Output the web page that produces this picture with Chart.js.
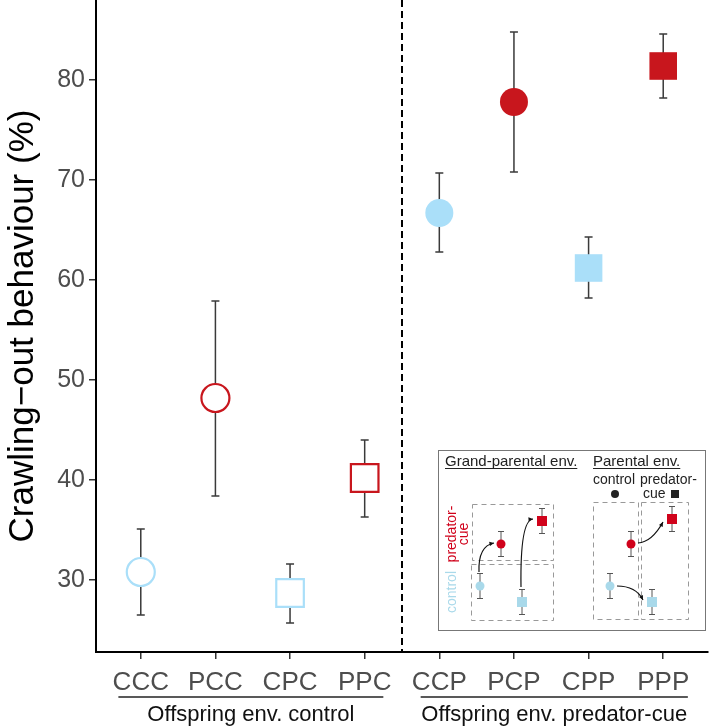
<!DOCTYPE html>
<html>
<head>
<meta charset="utf-8">
<script src="https://cdn.jsdelivr.net/npm/chart.js@4.4.1/dist/chart.umd.min.js"></script>
<style>
  body { margin: 0; background: #fff; }
  #wrap { width: 709px; height: 727px; position: relative; }
</style>
</head>
<body>
<div id="wrap"><canvas id="chart"></canvas></div>
<script>
// data
const categories = ['CCC', 'PCC', 'CPC', 'PPC', 'CCP', 'PCP', 'CPP', 'PPP'];
const means = [30.8, 48.2, 28.7, 40.2, 66.7, 77.8, 61.2, 81.4];
const lowerCI = [26.5, 38.4, 25.7, 36.3, 62.8, 70.8, 58.2, 78.2];
const upperCI = [35.1, 57.9, 31.6, 44.0, 70.7, 84.8, 64.3, 84.6];
const yTicks = [30, 40, 50, 60, 70, 80];
const groupLabels = ['Offspring env. control', 'Offspring env. predator-cue'];
const groupStart = [-0.3, 3.75];
const groupEnd = [3.25, 7.33];

const BLUE = '#aadff9';
const RED = '#c8161d';
const FONT = '"Liberation Sans", Arial, sans-serif';

// letter 1 = grand-parental (colour), 2 = parental (shape), 3 = offspring (fill)
const pointColor = categories.map(c => c[0] === 'C' ? BLUE : RED);
const pointShape = categories.map(c => c[1] === 'C' ? 'circle' : 'rect');
const pointFilled = categories.map(c => c[2] === 'P');
const pointSize = categories.map((c, i) => pointShape[i] === 'circle' ? 14 : 19.5);

const errorBars = {
  id: 'errorBars',
  beforeDatasetsDraw(chart) {
    const { ctx, scales: { x, y } } = chart;
    ctx.save();
    ctx.strokeStyle = '#3a3a3a';
    ctx.lineWidth = 1.5;
    categories.forEach((c, i) => {
      const px = x.getPixelForValue(i);
      const top = y.getPixelForValue(upperCI[i]);
      const bot = y.getPixelForValue(lowerCI[i]);
      ctx.beginPath();
      ctx.moveTo(px, top); ctx.lineTo(px, bot);
      ctx.moveTo(px - 4, top); ctx.lineTo(px + 4, top);
      ctx.moveTo(px - 4, bot); ctx.lineTo(px + 4, bot);
      ctx.stroke();
    });
    ctx.restore();
  }
};

const extras = {
  id: 'extras',
  afterDraw(chart) {
    const { ctx, chartArea: area, scales: { x } } = chart;
    ctx.save();
    // dashed separator
    const sx = x.getPixelForValue(3.5);
    ctx.strokeStyle = '#000';
    ctx.lineWidth = 2;
    ctx.setLineDash([7, 4]);
    ctx.beginPath();
    ctx.moveTo(sx, area.top);
    ctx.lineTo(sx, area.bottom);
    ctx.stroke();
    ctx.setLineDash([]);

    // group underlines + labels
    ctx.lineWidth = 1.5;
    ctx.strokeStyle = '#222';
    ctx.fillStyle = '#111';
    ctx.font = '22px ' + FONT;
    ctx.textAlign = 'center';
    ctx.textBaseline = 'middle';
    groupLabels.forEach((g, i) => {
      const a = x.getPixelForValue(groupStart[i]);
      const b = x.getPixelForValue(groupEnd[i]);
      ctx.beginPath();
      ctx.moveTo(a, area.bottom + 45);
      ctx.lineTo(b, area.bottom + 45);
      ctx.stroke();
      ctx.fillText(g, (a + b) / 2, area.bottom + 63);
    });
    ctx.restore();
    drawInset(ctx, area);
  }
};

function miniPoint(ctx, px, py, shape, color) {
  ctx.strokeStyle = '#555';
  ctx.lineWidth = 1;
  ctx.beginPath();
  ctx.moveTo(px, py - 12.5); ctx.lineTo(px, py + 12.5);
  ctx.moveTo(px - 3, py - 12.5); ctx.lineTo(px + 3, py - 12.5);
  ctx.moveTo(px - 3, py + 12.5); ctx.lineTo(px + 3, py + 12.5);
  ctx.stroke();
  ctx.fillStyle = color;
  if (shape === 'circle') {
    ctx.beginPath();
    ctx.arc(px, py, 4.5, 0, Math.PI * 2);
    ctx.fill();
  } else {
    ctx.fillRect(px - 5, py - 5, 10, 10);
  }
}

function curvedArrow(ctx, x0, y0, cx, cy, x1, y1) {
  ctx.strokeStyle = '#111';
  ctx.fillStyle = '#111';
  ctx.lineWidth = 1.2;
  ctx.beginPath();
  ctx.moveTo(x0, y0);
  ctx.quadraticCurveTo(cx, cy, x1, y1);
  ctx.stroke();
  const ang = Math.atan2(y1 - cy, x1 - cx);
  ctx.beginPath();
  ctx.moveTo(x1, y1);
  ctx.lineTo(x1 - 5 * Math.cos(ang - 0.45), y1 - 5 * Math.sin(ang - 0.45));
  ctx.lineTo(x1 - 5 * Math.cos(ang + 0.45), y1 - 5 * Math.sin(ang + 0.45));
  ctx.closePath();
  ctx.fill();
}

function drawInset(ctx, area) {
  const bx = area.right - 270;
  const by = area.bottom - 202;
  const mBlue = '#a9d9ea';
  const mRed = '#d0021b';
  ctx.save();
  ctx.fillStyle = '#fff';
  ctx.fillRect(bx, by, 267, 180);
  ctx.strokeStyle = '#777';
  ctx.lineWidth = 1;
  ctx.strokeRect(bx + 0.5, by + 0.5, 267, 180);

  // headers
  ctx.fillStyle = '#222';
  ctx.font = '15px ' + FONT;
  ctx.textAlign = 'left';
  ctx.textBaseline = 'alphabetic';
  [['Grand-parental env.', 7], ['Parental env.', 155]].forEach(([t, ox]) => {
    ctx.fillText(t, bx + ox, by + 16);
    const w = ctx.measureText(t).width;
    ctx.fillRect(bx + ox, by + 18, w, 1);
  });
  ctx.font = '14px ' + FONT;
  ctx.textBaseline = 'middle';
  ctx.fillText('control', bx + 155, by + 30);
  ctx.fillText('predator-', bx + 202, by + 30);
  ctx.fillText('cue', bx + 205, by + 44);
  ctx.fillRect(bx + 233, by + 40, 8, 8);
  ctx.beginPath();
  ctx.arc(bx + 177, by + 44, 4, 0, Math.PI * 2);
  ctx.fill();

  // rotated row labels
  ctx.save();
  ctx.translate(bx + 14.5, by + 142);
  ctx.rotate(-Math.PI / 2);
  ctx.textAlign = 'center';
  ctx.fillStyle = mBlue;
  ctx.fillText('control', 0, 0);
  ctx.restore();
  ctx.save();
  ctx.translate(bx + 14.5, by + 84);
  ctx.rotate(-Math.PI / 2);
  ctx.textAlign = 'center';
  ctx.fillStyle = mRed;
  ctx.fillText('predator-', 0, 0);
  ctx.fillText('cue', 0, 12);
  ctx.restore();

  // dashed panels
  ctx.strokeStyle = '#999';
  ctx.lineWidth = 1;
  ctx.setLineDash([5, 4]);
  [[34, 54, 81, 56], [33, 114, 82, 56], [155, 52, 45, 117], [203, 52, 47, 117]].forEach(([a, b, w, h]) => {
    ctx.strokeRect(bx + a + 0.5, by + b + 0.5, w, h);
  });
  ctx.setLineDash([]);

  // grand-parental panel
  miniPoint(ctx, bx + 42, by + 136, 'circle', mBlue);
  miniPoint(ctx, bx + 63, by + 94, 'circle', mRed);
  miniPoint(ctx, bx + 84, by + 152, 'rect', mBlue);
  miniPoint(ctx, bx + 104, by + 71, 'rect', mRed);
  curvedArrow(ctx, bx + 41, by + 122, bx + 40, by + 96, bx + 56, by + 93);
  curvedArrow(ctx, bx + 83, by + 137, bx + 82, by + 70, bx + 95, by + 69);
  // parental panel
  miniPoint(ctx, bx + 172, by + 136, 'circle', mBlue);
  miniPoint(ctx, bx + 193, by + 94, 'circle', mRed);
  miniPoint(ctx, bx + 214, by + 152, 'rect', mBlue);
  miniPoint(ctx, bx + 234, by + 69, 'rect', mRed);
  curvedArrow(ctx, bx + 200, by + 93, bx + 214, by + 92, bx + 225, by + 72);
  curvedArrow(ctx, bx + 179, by + 136, bx + 198, by + 136, bx + 205, by + 150);
  ctx.restore();
}

new Chart(document.getElementById('chart'), {
  type: 'scatter',
  data: {
    datasets: [{
      data: means.map((m, i) => ({ x: i, y: m })),
      pointStyle: pointShape,
      pointRadius: pointSize,
      pointHoverRadius: pointSize,
      borderColor: pointColor,
      backgroundColor: pointColor.map((c, i) => pointFilled[i] ? c : '#fff'),
      borderWidth: pointFilled.map(f => f ? 0 : 2.2),
      clip: false
    }]
  },
  options: {
    responsive: true,
    maintainAspectRatio: false,
    animation: false,
    layout: { autoPadding: false, padding: { top: 0, right: 1, bottom: 0, left: 0 } },
    plugins: { legend: { display: false }, tooltip: { enabled: false } },
    scales: {
      x: {
        type: 'linear',
        min: -0.6,
        max: 7.6,
        afterBuildTicks: s => { s.ticks = categories.map((c, i) => ({ value: i })); },
        afterFit: s => { s.height = 75; s.paddingLeft = 0; s.paddingRight = 0; },
        ticks: {
          callback: v => categories[v],
          color: '#4d4d4d',
          font: { family: FONT, size: 26 },
          padding: 8,
          maxRotation: 0,
          autoSkip: false
        },
        grid: { drawOnChartArea: false, drawTicks: true, tickLength: 7, color: '#333', lineWidth: 1.5 },
        border: { display: true, color: '#000', width: 2 }
      },
      y: {
        min: 22.8,
        max: 88,
        afterBuildTicks: s => { s.ticks = yTicks.map(v => ({ value: v })); },
        afterFit: s => { s.width = 96; s.paddingTop = 0; s.paddingBottom = 0; },
        ticks: {
          color: '#4d4d4d',
          font: { family: FONT, size: 25 },
          padding: 4
        },
        title: {
          display: true,
          text: 'Crawling\u2212out behaviour (%)',
          color: '#000',
          font: { family: FONT, size: 35 },
          padding: { top: 2, bottom: 0 }
        },
        grid: { drawOnChartArea: false, drawTicks: true, tickLength: 7, color: '#333', lineWidth: 1.5 },
        border: { display: true, color: '#000', width: 2 }
      }
    }
  },
  plugins: [errorBars, extras]
});
</script>
</body>
</html>
